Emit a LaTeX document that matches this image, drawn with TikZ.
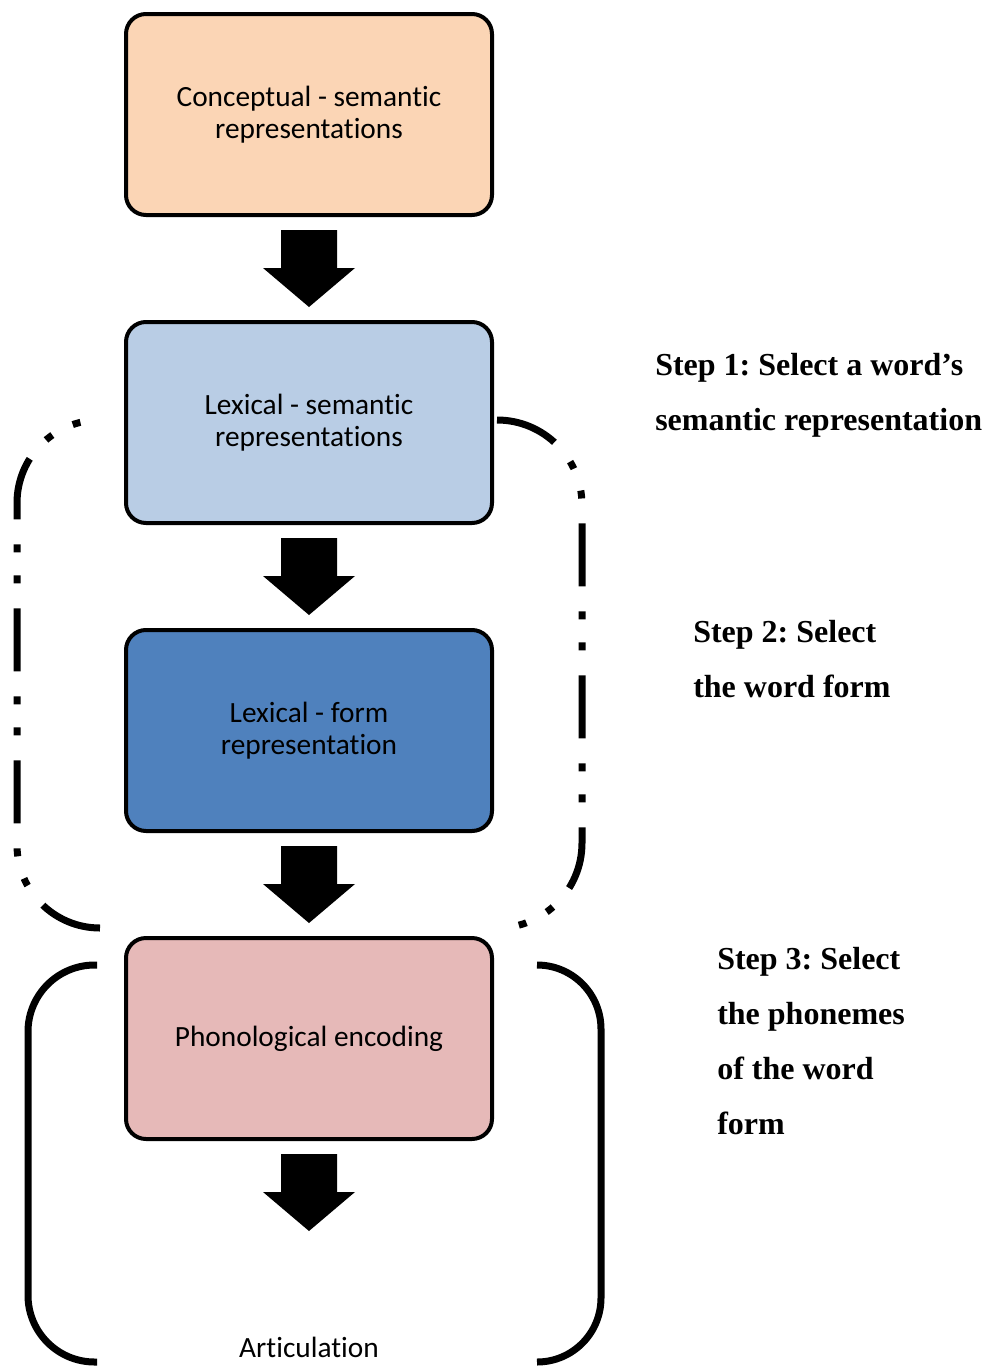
\documentclass[tikz,border=0pt]{standalone}
\usepackage{fontspec}
\setmainfont{Carlito}[Ligatures=NoCommon]
\newfontfamily\stepfont{Liberation Serif}
\usetikzlibrary{calc}
\frenchspacing

\definecolor{conceptfill}{HTML}{FBD5B5}
\definecolor{lexsemfill}{HTML}{B9CDE5}
\definecolor{lexformfill}{HTML}{4F81BD}
\definecolor{phonfill}{HTML}{E6B9B8}

% block arrow pointing down, hanging below the named node
\newcommand\blockarrow[1]{%
  \fill ($(#1.south)+(-28,13)$) -- ($(#1.south)+(28,13)$) --
        ($(#1.south)+(28,51)$) -- ($(#1.south)+(46,51)$) --
        ($(#1.south)+(0,90)$) --
        ($(#1.south)+(-46,51)$) -- ($(#1.south)+(-28,51)$) -- cycle;}

\begin{document}
\begin{tikzpicture}[x=0.75pt, y=-0.75pt,
  stage/.style={draw=black, line width=3pt, rounded corners=15pt,
    minimum width=274.5pt, minimum height=150.75pt, inner sep=0pt,
    align=center, font=\fontsize{22}{24}\selectfont},
  steptext/.style={anchor=north west, inner sep=0pt, align=left,
    font=\stepfont\bfseries\fontsize{24}{41.25}\selectfont},
  bracket/.style={line width=5.25pt, line cap=butt},
  dashbracket/.style={bracket,
    dash pattern=on 47.25pt off 18.75pt on 6pt off 17.25pt on 6pt off 18.75pt},
]
\useasboundingbox (0,0) rectangle (1000,1367);

% processing stages
\node[stage, fill=conceptfill] (concept) at (309,114.5) {Conceptual - semantic\\representations};
\node[stage, fill=lexsemfill]  (lexsem)  at (309,422.5) {Lexical - semantic\\representations};
\node[stage, fill=lexformfill] (lexform) at (309,730.5) {Lexical - form\\representation};
\node[stage, fill=phonfill]    (phon)    at (309,1038.5) {Phonological encoding};
\node[inner sep=0pt, font=\fontsize{22}{24}\selectfont] (artic) at (309,1347) {Articulation};

% arrows between stages
\blockarrow{concept}
\blockarrow{lexsem}
\blockarrow{lexform}
\blockarrow{phon}

% dash-dot brackets around the lexical stages
\draw[dashbracket, rounded corners=62.25pt]
  (100,928) -- (17,928) -- (17,420) -- (100,420);
\draw[dashbracket, rounded corners=63.75pt]
  (497,420) -- (582,420) -- (582,928) -- (497,928);

% solid brackets around the phonological stage
\draw[bracket, rounded corners=50pt]
  (97,965) -- (28,965) -- (28,1362) -- (97,1362);
\draw[bracket, rounded corners=48pt]
  (537,965) -- (601,965) -- (601,1362) -- (537,1362);

% step descriptions
\node[steptext] (step1) at (655,353) {Step 1: Select a word’s\\semantic representation};
\node[steptext] (step2) at (693,620) {Step 2: Select\\the word form};
\node[steptext] (step3) at (717,947) {Step 3: Select\\the phonemes\\of the word\\form};
\end{tikzpicture}
\end{document}
